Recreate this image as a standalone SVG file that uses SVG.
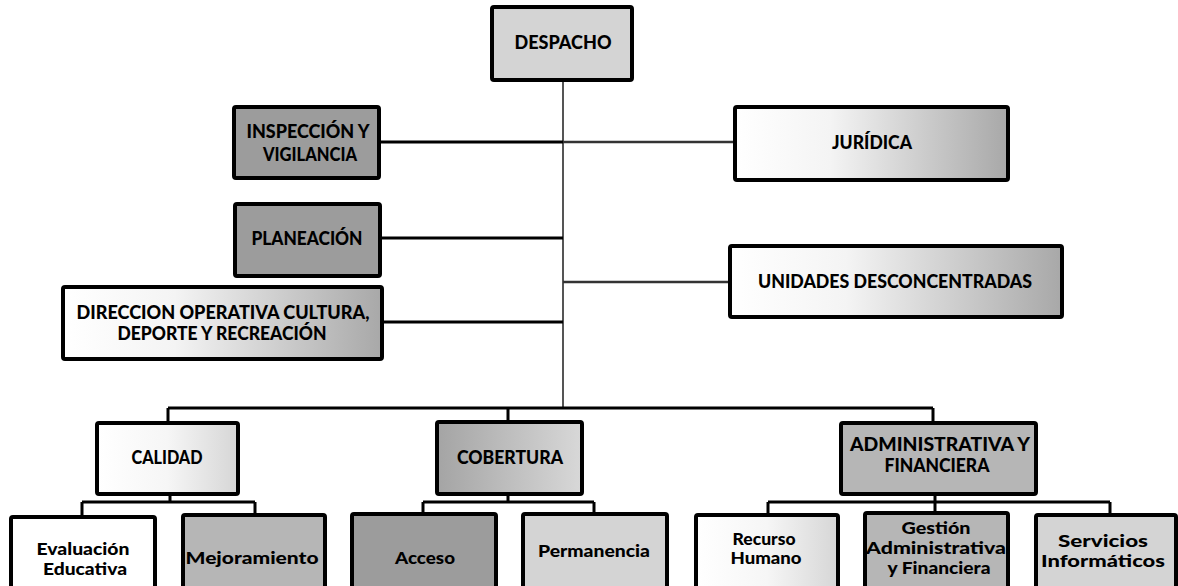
<svg xmlns="http://www.w3.org/2000/svg" width="1178" height="586" viewBox="0 0 1178 586">
<defs>
<linearGradient id="gw" x1="0" y1="0" x2="1" y2="0">
<stop offset="0" stop-color="#ffffff"/><stop offset="0.35" stop-color="#f4f4f4"/><stop offset="1" stop-color="#a8a8a8"/>
</linearGradient>
<linearGradient id="gl" x1="0" y1="0" x2="1" y2="0">
<stop offset="0" stop-color="#ffffff"/><stop offset="0.5" stop-color="#f6f6f6"/><stop offset="1" stop-color="#d6d6d6"/>
</linearGradient>
<linearGradient id="gc" x1="0" y1="0" x2="1" y2="0">
<stop offset="0" stop-color="#a4a4a4"/><stop offset="1" stop-color="#d8d8d8"/>
</linearGradient>
</defs>
<style>
.box{stroke:#000;stroke-width:4;}
.dk{fill:#9c9c9c}.md{fill:#b6b6b6}.lt{fill:#d4d4d4}.wh{fill:#fff}
.t{font-family:Lato,"Liberation Sans",sans-serif;font-weight:900;fill:#000;text-anchor:middle}
.t1{font-size:18px}.t2{font-size:16px}
.c{stroke:#000;stroke-width:3;fill:none}
.trunk{stroke:#555;stroke-width:2;fill:none}
.cr{stroke:#333;stroke-width:2.5;fill:none}
</style>
<rect width="1178" height="586" fill="#fff"/>
<g id="connectors">
<path class="trunk" d="M563 80V408"/>
<path class="c" d="M379 142H563M380 238H563M382 322H563"/>
<path class="cr" d="M563 142H735M563 282H730"/>
<path class="c" d="M168 408H933M168 408V423M508 408V422M933 408V423"/>
<path class="c" d="M170 494V502M82 502H255M82 502V517M255 502V515"/>
<path class="c" d="M508 494V502M423 502H594M423 502V514M594 502V514"/>
<path class="c" d="M935 494V513M768 502H1110M768 502V515M1110 502V515"/>
</g>
<g id="despacho"><rect class="box lt" x="492" y="7" width="140" height="73" rx="2"/><text class="t t1" x="563" y="49" textLength="97" lengthAdjust="spacingAndGlyphs">DESPACHO</text></g>
<g id="inspeccion"><rect class="box dk" x="234" y="107" width="145" height="71" rx="2"/><text class="t t1" x="308" y="138" textLength="123" lengthAdjust="spacingAndGlyphs">INSPECCIÓN Y</text><text class="t t1" x="310" y="161" textLength="94" lengthAdjust="spacingAndGlyphs">VIGILANCIA</text></g>
<g id="juridica"><rect class="box" fill="url(#gw)" x="735" y="107" width="273" height="73" rx="2"/><text class="t t1" x="872" y="149" textLength="80" lengthAdjust="spacingAndGlyphs">JURÍDICA</text></g>
<g id="planeacion"><rect class="box dk" x="235" y="204" width="145" height="72" rx="2"/><text class="t t1" x="307" y="245" textLength="111" lengthAdjust="spacingAndGlyphs">PLANEACIÓN</text></g>
<g id="direccion"><rect class="box" fill="url(#gw)" x="63" y="287" width="319" height="72" rx="2"/><text class="t t1" x="223" y="319" textLength="293" lengthAdjust="spacingAndGlyphs">DIRECCION OPERATIVA CULTURA,</text><text class="t t1" x="222" y="340" textLength="209" lengthAdjust="spacingAndGlyphs">DEPORTE Y RECREACIÓN</text></g>
<g id="unidades"><rect class="box" fill="url(#gw)" x="730" y="246" width="332" height="71" rx="2"/><text class="t t1" x="895" y="288" textLength="274" lengthAdjust="spacingAndGlyphs">UNIDADES DESCONCENTRADAS</text></g>
<g id="calidad"><rect class="box" fill="url(#gl)" x="97" y="423" width="141" height="71" rx="2"/><text class="t t1" x="167" y="464" textLength="71" lengthAdjust="spacingAndGlyphs">CALIDAD</text></g>
<g id="cobertura"><rect class="box" fill="url(#gc)" x="437" y="422" width="145" height="72" rx="2"/><text class="t t1" x="510" y="464" textLength="106" lengthAdjust="spacingAndGlyphs">COBERTURA</text></g>
<g id="administrativa"><rect class="box md" x="841" y="423" width="195" height="71" rx="2"/><text class="t t1" x="940" y="451" textLength="180" lengthAdjust="spacingAndGlyphs">ADMINISTRATIVA Y</text><text class="t t1" x="937" y="472" textLength="105" lengthAdjust="spacingAndGlyphs">FINANCIERA</text></g>
<g id="evaluacion"><rect class="box wh" x="11" y="517" width="144" height="80" rx="2"/><text class="t t2" x="83" y="555" textLength="93" lengthAdjust="spacingAndGlyphs">Evaluación</text><text class="t t2" x="85" y="575" textLength="84" lengthAdjust="spacingAndGlyphs">Educativa</text></g>
<g id="mejoramiento"><rect class="box md" x="183" y="515" width="142" height="80" rx="2"/><text class="t t2" x="252" y="564" textLength="133" lengthAdjust="spacingAndGlyphs">Mejoramiento</text></g>
<g id="acceso"><rect class="box dk" x="352" y="514" width="144" height="80" rx="2"/><text class="t t2" x="425" y="564" textLength="60" lengthAdjust="spacingAndGlyphs">Acceso</text></g>
<g id="permanencia"><rect class="box lt" x="523" y="514" width="144" height="80" rx="2"/><text class="t t2" x="594" y="557" textLength="112" lengthAdjust="spacingAndGlyphs">Permanencia</text></g>
<g id="recurso"><rect class="box" fill="url(#gl)" x="696" y="515" width="142" height="80" rx="2"/><text class="t t2" x="764" y="545" textLength="63" lengthAdjust="spacingAndGlyphs">Recurso</text><text class="t t2" x="766" y="564" textLength="71" lengthAdjust="spacingAndGlyphs">Humano</text></g>
<g id="gestion"><rect class="box md" x="865" y="513" width="143" height="80" rx="2"/><text class="t t2" x="936" y="534" textLength="69" lengthAdjust="spacingAndGlyphs">Gestión</text><text class="t t2" x="936" y="554" textLength="140" lengthAdjust="spacingAndGlyphs">Administrativa</text><text class="t t2" x="939" y="574" textLength="103" lengthAdjust="spacingAndGlyphs">y Financiera</text></g>
<g id="servicios"><rect class="box lt" x="1036" y="515" width="140" height="80" rx="2"/><text class="t t2" x="1103" y="547" textLength="90" lengthAdjust="spacingAndGlyphs">Servicios</text><text class="t t2" x="1103" y="567" textLength="124" lengthAdjust="spacingAndGlyphs">Informáticos</text></g>
</svg>
